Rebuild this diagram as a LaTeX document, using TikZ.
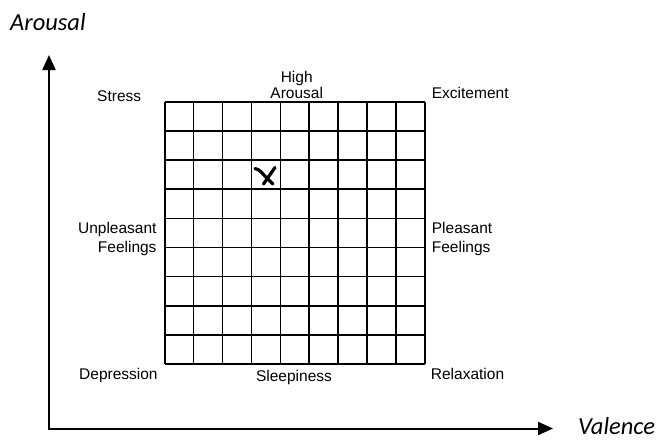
\documentclass[tikz,border=0pt]{standalone}
\usepackage{fontspec}
\setmainfont{Liberation Sans}
\newfontfamily\axisfont{Carlito}
\usetikzlibrary{arrows.meta}
\tikzset{
  lbl/.style={inner sep=0pt, font=\fontsize{15.5}{16}\selectfont},
  axislbl/.style={inner sep=0pt, font=\axisfont\itshape\fontsize{24.5}{27}\selectfont},
  axis/.style={line width=2pt, {Triangle[length=15pt,width=13pt]}-{Triangle[length=15pt,width=13pt]}},
  gridline/.style={line width=1.7pt},
  xstroke/.style={line width=3.2pt, line cap=round}
}
\begin{document}
\begin{tikzpicture}[x=1pt,y=-1pt]
\useasboundingbox (0,0) rectangle (662,440);
% axes
\coordinate (ytip) at (49,55);
\coordinate (O) at (49,428.5);
\coordinate (xtip) at (553,428.5);
\draw[axis] (ytip) -- (O) -- (xtip);
\node[axislbl, anchor=base west] (arousal) at (10,30) {Arousal};
\node[axislbl, anchor=base west] (valence) at (578,434.5) {Valence};
% grid
\foreach \i in {0,...,9} {
  \draw[gridline] (164.7,102+\i*29.1) -- (425,102+\i*29.1);
  \draw[gridline] (164.7+\i*28.92,102) -- (164.7+\i*28.92,364);
}
% X mark
\coordinate (xa1) at (255,168.5);
\coordinate (xa2) at (273,184);
\coordinate (xb1) at (275,167.5);
\coordinate (xb2) at (263.5,184);
\draw[xstroke] (xa1) .. controls (260,169) and (263,175) .. (xa2);
\draw[xstroke] (xb1) -- (xb2);
% labels
\node[lbl, anchor=base west] (stress) at (97,101) {Stress};
\node[lbl, anchor=base west] (excite) at (431.7,98.3) {Excitement};
\node[lbl, anchor=base] (high) at (296.7,82) {High};
\node[lbl, anchor=base] (higharousal) at (296.7,98.3) {Arousal};
\node[lbl, anchor=base east] (unpl1) at (156.7,233.3) {Unpleasant};
\node[lbl, anchor=base east] (unpl2) at (156.7,252.7) {Feelings};
\node[lbl, anchor=base west] (pl1) at (431.7,233.3) {Pleasant};
\node[lbl, anchor=base west] (pl2) at (431.7,252.7) {Feelings};
\node[lbl, anchor=base west] (depr) at (79,379) {Depression};
\node[lbl, anchor=base] (sleep) at (294,381.5) {Sleepiness};
\node[lbl, anchor=base west] (relax) at (430.7,379) {Relaxation};
\end{tikzpicture}
\end{document}
